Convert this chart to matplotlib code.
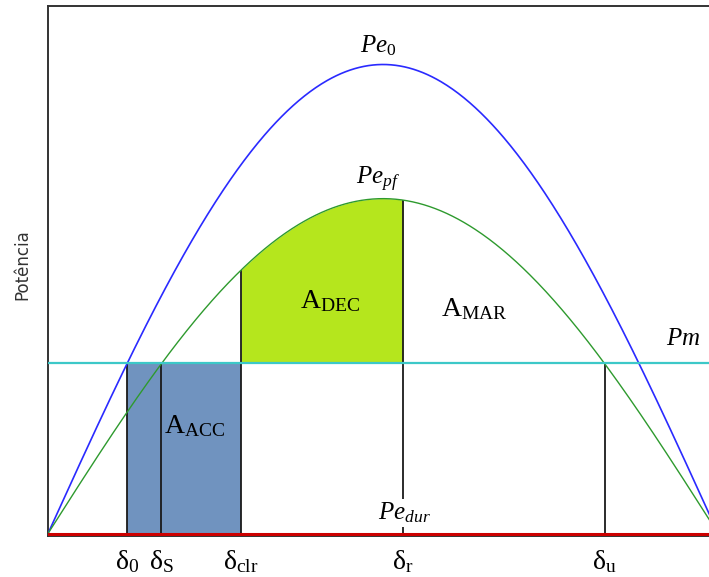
import numpy as np
import matplotlib.pyplot as plt

plt.rcParams['mathtext.fontset'] = 'custom'
plt.rcParams['mathtext.rm'] = 'Liberation Serif'
plt.rcParams['mathtext.it'] = 'Liberation Serif:italic'
plt.rcParams['mathtext.bf'] = 'Liberation Serif:bold'

# peak electrical power of each curve, and mechanical power (pu of Pe0 peak)
pe0_max = 1.0      # pre-fault
pepf_max = 0.714   # post-fault
pedur_max = 0.0    # during fault
pm = 0.3625

# rotor angles (rad)
angle_names = ['0', 'S', 'clr', 'r', 'u']
angle_values = [0.371, 0.532, 0.905, 1.664, 2.610]
d0, ds, dclr, dr, du = angle_values

delta = np.linspace(0, 3.2, 600)
pe0 = pe0_max * np.sin(delta)
pepf = pepf_max * np.sin(delta)
pedur = pedur_max * np.sin(delta)

W, H = 709, 577
fig = plt.figure(figsize=(W / 100, H / 100), dpi=100)
ax = fig.add_axes([48 / W, 1 - 535.5 / H, (W - 48) / W, (535.5 - 6) / H])

# accelerating area (blue) and decelerating area (green)
ax.fill_between([d0, dclr], 0, pm, color='#7093bf', lw=0, zorder=1)
dd = np.linspace(dclr, dr, 200)
ax.fill_between(dd, pm, pepf_max * np.sin(dd), color='#b5e61d', lw=0, zorder=1)

ax.plot(delta, pe0, color='#2a2aff', lw=1.2, zorder=3)
ax.plot(delta, pepf, color='#2e9a2e', lw=1.0, zorder=3)
ax.axhline(pm, color='#3cc8c8', lw=1.6, zorder=4)
ax.plot(delta, pedur, color='#cc0000', lw=2.2, zorder=5)

# vertical markers
ax.vlines([d0, ds, du], 0, pm, color='#1a1a1a', lw=1.3, zorder=2)
ax.vlines([dclr, dr], 0, pepf_max * np.sin([dclr, dr]), color='#1a1a1a', lw=1.3, zorder=2)

ax.text(1.547, 1.041, r'$Pe_{0}$', fontsize=18, ha='center', va='center')
ax.text(1.547, 0.754, r'$Pe_{pf}$', fontsize=18, ha='center', va='center')
ax.text(2.977, 0.417, r'$Pm$', fontsize=18, ha='center', va='center')
ax.text(1.672, 0.044, r'$Pe_{dur}$', fontsize=18, ha='center', va='center',
        bbox=dict(facecolor='white', edgecolor='none', pad=1), zorder=6)
ax.text(1.322, 0.498, r'$\mathrm{A}_{\mathrm{DEC}}$', fontsize=20, ha='center', va='center')
ax.text(2.0, 0.481, r'$\mathrm{A}_{\mathrm{MAR}}$', fontsize=20, ha='center', va='center')
ax.text(0.689, 0.231, r'$\mathrm{A}_{\mathrm{ACC}}$', fontsize=20, ha='center', va='center')

ax.set_xlim(0, (W - 48) / 213.3)
ax.set_ylim(-2 / 469, 527.5 / 469)
ax.set_xticks(angle_values)
ax.set_xticklabels([r'$\mathrm{\delta}_{\mathrm{%s}}$' % n for n in angle_names], fontsize=20)
ax.tick_params(axis='x', length=0, pad=8)
ax.set_yticks([])

for side in ['left', 'top', 'bottom']:
    ax.spines[side].set_color('#333333')
    ax.spines[side].set_linewidth(1.4)
ax.spines['right'].set_visible(False)

fig.text(22 / W, 1 - 265 / H, 'Potência', rotation=90, fontsize=12,
         family='DejaVu Sans', color='#333333', ha='center', va='center')

fig.savefig('out.png', dpi=100)
